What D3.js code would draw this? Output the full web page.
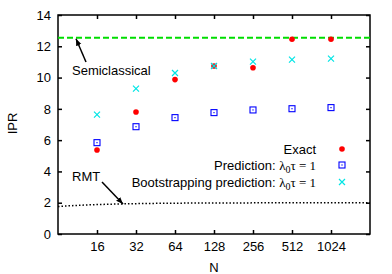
<!DOCTYPE html>
<html>
<head>
<meta charset="utf-8">
<script src="https://cdn.jsdelivr.net/npm/d3@7"></script>
<style>
body { margin: 0; background: #fff; }
text { font-family: "Liberation Sans", Arial, sans-serif; font-size: 13px; fill: #000; }
.greek { font-family: "Liberation Serif", "DejaVu Serif", serif; }
</style>
</head>
<body>
<div id="chart"></div>
<script>
var width = 392,
  height = 274;

var N = [16, 32, 64, 128, 256, 512, 1024];
var exact = [5.37, 7.8, 9.87, 10.74, 10.63, 12.45, 12.45];
var prediction = [5.84, 6.86, 7.44, 7.76, 7.93, 8.01, 8.08];
var bootstrap = [7.63, 9.29, 10.29, 10.74, 11.02, 11.15, 11.21];
var semiclassical = 12.55;
var rmtN = [8, 12, 16, 24, 32, 48, 64, 128, 256, 512, 1024, 2048];
var rmtIPR = [1.76, 1.84, 1.88, 1.92, 1.94, 1.96, 1.97, 1.985, 1.99, 1.995, 2.0, 2.0];
var yTicks = [0, 2, 4, 6, 8, 10, 12, 14];

var margin = {left: 58, right: 22, top: 15, bottom: 40};

var svg = d3.select('#chart').append('svg')
  .attr('width', width)
  .attr('height', height);

var x = d3.scaleLog().base(2)
  .domain([8, 2048])
  .range([margin.left, width - margin.right]);

var y = d3.scaleLinear()
  .domain([0, 14])
  .range([height - margin.bottom, margin.top]);

// axes (ticks pointing inward, mirrored)
svg.append('g')
  .attr('transform', 'translate(0,' + y(0) + ')')
  .call(d3.axisBottom(x).tickValues(N).tickFormat(d3.format('d')).tickSizeInner(-4).tickSizeOuter(0).tickPadding(8))
  .call(function(g) { g.select('.domain').remove(); });

svg.append('g')
  .attr('transform', 'translate(0,' + y(14) + ')')
  .call(d3.axisTop(x).tickValues(N).tickFormat('').tickSizeInner(-4).tickSizeOuter(0))
  .call(function(g) { g.select('.domain').remove(); });

svg.append('g')
  .attr('transform', 'translate(' + x(8) + ',0)')
  .call(d3.axisLeft(y).tickValues(yTicks).tickSizeInner(-4).tickSizeOuter(0).tickPadding(7))
  .call(function(g) { g.select('.domain').remove(); });

svg.append('g')
  .attr('transform', 'translate(' + x(2048) + ',0)')
  .call(d3.axisRight(y).tickValues(yTicks).tickFormat('').tickSizeInner(-4).tickSizeOuter(0))
  .call(function(g) { g.select('.domain').remove(); });

svg.selectAll('.tick line').attr('stroke', '#000').attr('stroke-width', 1.5);
svg.selectAll('.tick text').style('font-size', '13px').attr('fill', '#000');

// frame
svg.append('rect')
  .attr('x', x(8)).attr('y', y(14))
  .attr('width', x(2048) - x(8)).attr('height', y(0) - y(14))
  .attr('fill', 'none').attr('stroke', '#000').attr('stroke-width', 1.5);

// axis labels
svg.append('text').attr('x', x(128)).attr('y', 272).attr('text-anchor', 'middle').text('N');
svg.append('text')
  .attr('transform', 'translate(17,' + (y(7) - 1) + ') rotate(-90)')
  .attr('text-anchor', 'middle').text('IPR');

// semiclassical line
svg.append('line')
  .attr('x1', x(8)).attr('x2', x(2048))
  .attr('y1', y(semiclassical)).attr('y2', y(semiclassical))
  .attr('stroke', '#00dd00').attr('stroke-width', 2)
  .attr('stroke-dasharray', '6,3');

// RMT line
var line = d3.line()
  .x(function(d, i) { return x(rmtN[i]); })
  .y(function(d) { return y(d); })
  .curve(d3.curveMonotoneX);

svg.append('path')
  .datum(rmtIPR)
  .attr('d', line)
  .attr('fill', 'none').attr('stroke', '#000').attr('stroke-width', 1.5)
  .attr('stroke-dasharray', '1.5,2');

// arrows
var defs = svg.append('defs');
defs.append('marker')
  .attr('id', 'arrow')
  .attr('viewBox', '0 0 10 10')
  .attr('refX', 10).attr('refY', 5)
  .attr('markerWidth', 7).attr('markerHeight', 7)
  .attr('markerUnits', 'userSpaceOnUse')
  .attr('orient', 'auto')
  .append('path').attr('d', 'M0,1 L10,5 L0,9 Z').attr('fill', '#000');

svg.append('line')
  .attr('x1', 86).attr('y1', 62).attr('x2', 76).attr('y2', y(semiclassical) + 1)
  .attr('stroke', '#000').attr('stroke-width', 1.5).attr('marker-end', 'url(#arrow)');
svg.append('text').attr('x', 72).attr('y', 75).text('Semiclassical');

svg.append('line')
  .attr('x1', 102).attr('y1', 182).attr('x2', 123).attr('y2', 204)
  .attr('stroke', '#000').attr('stroke-width', 1.5).attr('marker-end', 'url(#arrow)');
svg.append('text').attr('x', 72).attr('y', 181).text('RMT');

// markers
function drawCircle(g, cx, cy) {
  g.append('circle').attr('cx', cx).attr('cy', cy).attr('r', 2.8).attr('fill', '#ff0000');
}
function drawSquare(g, cx, cy) {
  g.append('rect').attr('x', cx - 3).attr('y', cy - 3).attr('width', 6).attr('height', 6)
    .attr('fill', 'none').attr('stroke', '#0000ff').attr('stroke-width', 1.1);
  g.append('rect').attr('x', cx - 0.6).attr('y', cy - 0.6).attr('width', 1.2).attr('height', 1.2).attr('fill', '#0000ff');
}
function drawCross(g, cx, cy) {
  g.append('path')
    .attr('d', 'M' + (cx - 3) + ',' + (cy - 3) + 'L' + (cx + 3) + ',' + (cy + 3) +
      'M' + (cx - 3) + ',' + (cy + 3) + 'L' + (cx + 3) + ',' + (cy - 3))
    .attr('stroke', '#00e5e5').attr('stroke-width', 1.2).attr('fill', 'none');
}

var pts = svg.append('g');
N.forEach(function(n, i) {
  drawSquare(pts, x(n), y(prediction[i]));
  drawCircle(pts, x(n), y(exact[i]));
  drawCross(pts, x(n), y(bootstrap[i]));
});

// legend
var lg = svg.append('g');
var lx = 316, sx = 342;
lg.append('text').attr('x', lx).attr('y', 154).attr('text-anchor', 'end').text('Exact');
drawCircle(lg, sx, 149);

var t2 = lg.append('text').attr('x', lx).attr('y', 170).attr('text-anchor', 'end');
t2.append('tspan').text('Prediction: ');
t2.append('tspan').attr('class', 'greek').text('λ');
t2.append('tspan').attr('class', 'greek').attr('dy', 3).style('font-size', '10px').text('0');
t2.append('tspan').attr('class', 'greek').attr('dy', -3).text('τ = 1');
drawSquare(lg, sx, 165);

var t3 = lg.append('text').attr('x', lx).attr('y', 187).attr('text-anchor', 'end');
t3.append('tspan').text('Bootstrapping prediction: ');
t3.append('tspan').attr('class', 'greek').text('λ');
t3.append('tspan').attr('class', 'greek').attr('dy', 3).style('font-size', '10px').text('0');
t3.append('tspan').attr('class', 'greek').attr('dy', -3).text('τ = 1');
drawCross(lg, sx, 182);
</script>
</body>
</html>
